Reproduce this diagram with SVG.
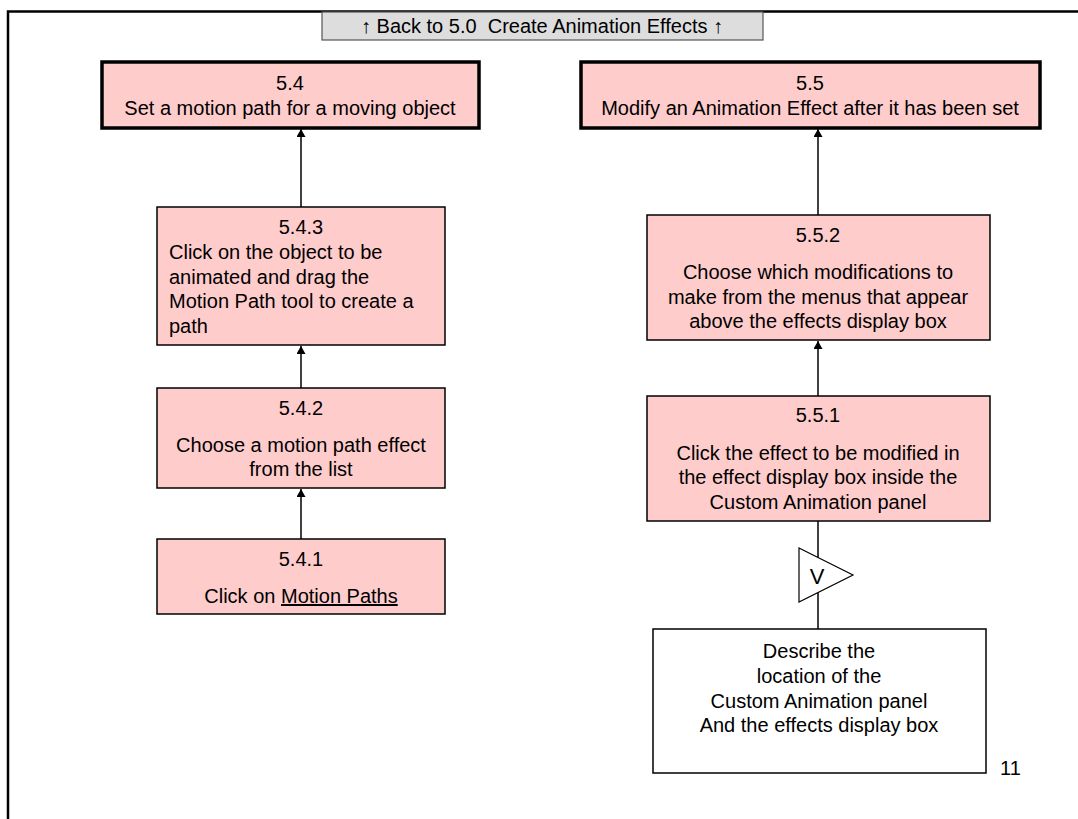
<svg xmlns="http://www.w3.org/2000/svg" width="1078" height="819" viewBox="0 0 1078 819">
  <style>
    text { font-family: "Liberation Sans", Arial, sans-serif; font-size: 20px; fill: #000; }
    .c { text-anchor: middle; }
    .step { fill: #FFCCCC; stroke: #000; stroke-width: 1.5; }
    .goal { fill: #FFCCCC; stroke: #000; stroke-width: 3.5; }
    .plain { fill: #FFF; stroke: #000; stroke-width: 1.5; }
    .link { stroke: #000; stroke-width: 1.5; fill: none; }
  </style>
  <defs>
    <marker id="head" viewBox="0 0 8 9" refX="8" refY="4.5" markerWidth="8" markerHeight="9" markerUnits="userSpaceOnUse" orient="auto">
      <path d="M0,0 L8,4.5 L0,9 Z" fill="#000"/>
    </marker>
  </defs>

  <rect width="1078" height="819" fill="#FFF"/>
  <!-- page frame -->
  <path d="M8,830 V11.5 H1090" fill="none" stroke="#000" stroke-width="2.5"/>

  <!-- back link -->
  <g id="back">
    <rect x="322" y="12" width="441" height="28" fill="#DDDDDD" stroke="#555" stroke-width="1.2"/>
    <text class="c" x="542" y="33" xml:space="preserve">↑ Back to 5.0  Create Animation Effects ↑</text>
  </g>

  <!-- connectors -->
  <g id="connectors">
    <line class="link" x1="301" y1="207" x2="301" y2="129" marker-end="url(#head)"/>
    <line class="link" x1="301" y1="388" x2="301" y2="346" marker-end="url(#head)"/>
    <line class="link" x1="301" y1="539" x2="301" y2="489" marker-end="url(#head)"/>
    <line class="link" x1="818" y1="215" x2="818" y2="129" marker-end="url(#head)"/>
    <line class="link" x1="818" y1="396" x2="818" y2="341" marker-end="url(#head)"/>
    <line class="link" x1="818" y1="521" x2="818" y2="629"/>
  </g>

  <g id="n54">
    <rect class="goal" x="102" y="62" width="377" height="66"/>
    <text class="c" x="290" y="90">5.4</text>
    <text class="c" x="290" y="115">Set a motion path for a moving object</text>
  </g>

  <g id="n55">
    <rect class="goal" x="581" y="62" width="459" height="66"/>
    <text class="c" x="810" y="90">5.5</text>
    <text class="c" x="810" y="115">Modify an Animation Effect after it has been set</text>
  </g>

  <g id="n543">
    <rect class="step" x="157" y="207" width="288" height="138"/>
    <text class="c" x="301" y="234">5.4.3</text>
    <text x="169" y="259">Click on the object to be</text>
    <text x="169" y="284">animated and drag the</text>
    <text x="169" y="308">Motion Path tool to create a</text>
    <text x="169" y="333">path</text>
  </g>

  <g id="n542">
    <rect class="step" x="157" y="388" width="288" height="100"/>
    <text class="c" x="301" y="415">5.4.2</text>
    <text class="c" x="301" y="452">Choose a motion path effect</text>
    <text class="c" x="301" y="476">from the list</text>
  </g>

  <g id="n541">
    <rect class="step" x="157" y="539" width="288" height="75"/>
    <text class="c" x="301" y="566">5.4.1</text>
    <text class="c" x="301" y="603">Click on <tspan text-decoration="underline">Motion Paths</tspan></text>
  </g>

  <g id="n552">
    <rect class="step" x="647" y="215" width="343" height="125"/>
    <text class="c" x="818" y="242">5.5.2</text>
    <text class="c" x="818" y="279">Choose which modifications to</text>
    <text class="c" x="818" y="304">make from the menus that appear</text>
    <text class="c" x="818" y="328">above the effects display box</text>
  </g>

  <g id="n551">
    <rect class="step" x="647" y="396" width="343" height="125"/>
    <text class="c" x="818" y="422">5.5.1</text>
    <text class="c" x="818" y="460">Click the effect to be modified in</text>
    <text class="c" x="818" y="484">the effect display box inside the</text>
    <text class="c" x="818" y="509">Custom Animation panel</text>
  </g>

  <g id="verify">
    <path d="M799,548 L853,575 L799,602 Z" fill="#FFF" stroke="#000" stroke-width="1.2"/>
    <text class="c" x="817" y="584" style="font-size:22px">V</text>
  </g>

  <g id="describe">
    <rect class="plain" x="653" y="629" width="333" height="144"/>
    <text class="c" x="819" y="658">Describe the</text>
    <text class="c" x="819" y="683">location of the</text>
    <text class="c" x="819" y="708">Custom Animation panel</text>
    <text class="c" x="819" y="732">And the effects display box</text>
  </g>

  <text x="1000" y="775">11</text>
</svg>
